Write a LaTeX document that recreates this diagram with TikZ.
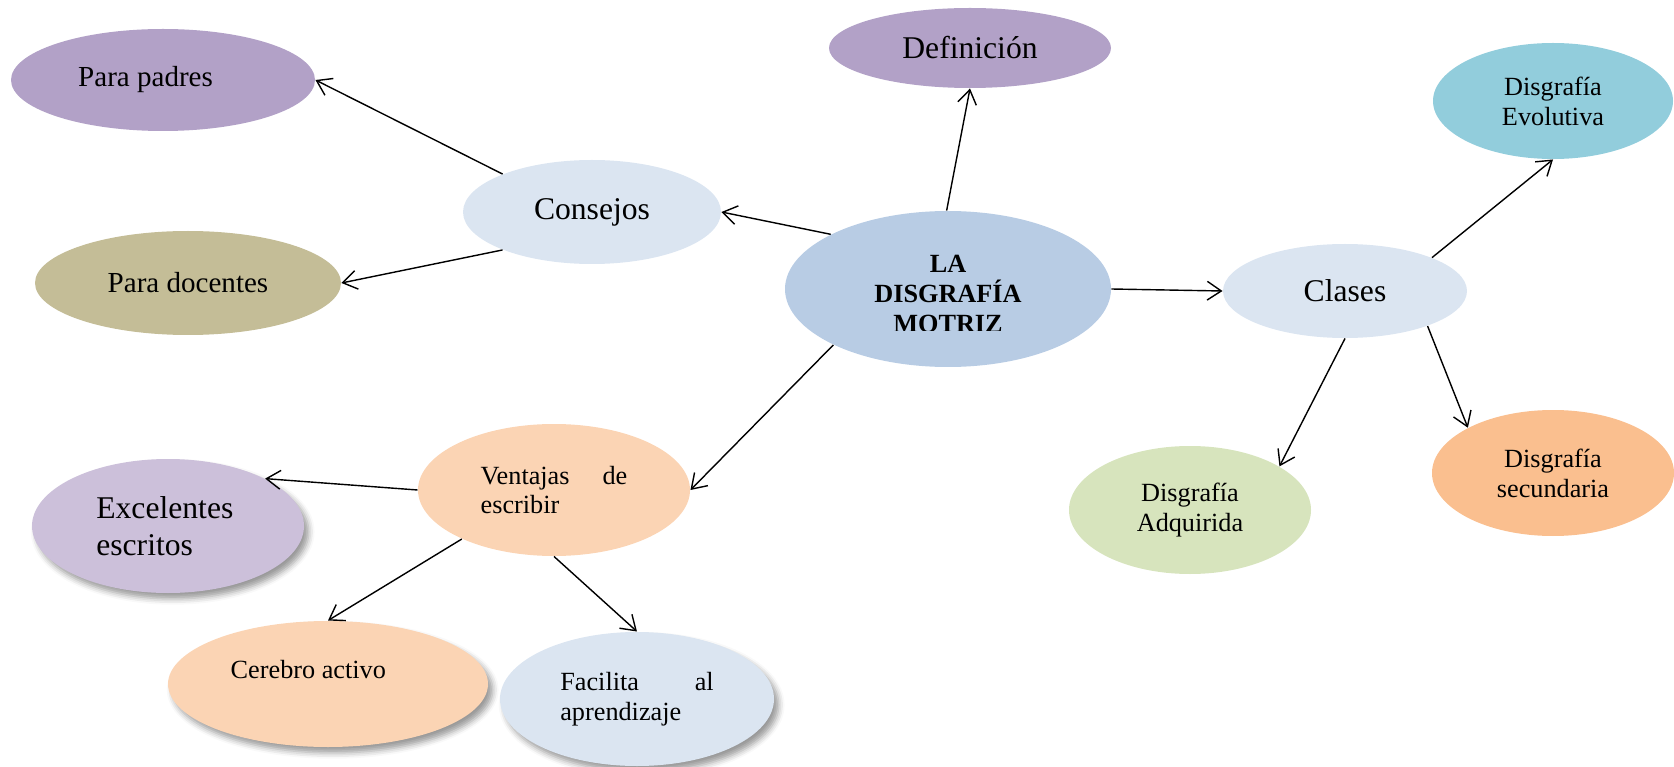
\documentclass[tikz,border=0pt]{standalone}
\usepackage{fontspec}
\setmainfont{Liberation Serif}
\usetikzlibrary{shapes.geometric,arrows.meta,shadows.blur}
\definecolor{lila}{HTML}{B2A1C7}
\definecolor{celeste}{HTML}{DBE5F1}
\definecolor{caqui}{HTML}{C4BD97}
\definecolor{azul}{HTML}{B8CCE4}
\definecolor{turquesa}{HTML}{92CDDC}
\definecolor{naranja}{HTML}{FABF8F}
\definecolor{verde}{HTML}{D7E4BD}
\definecolor{durazno}{HTML}{FBD4B4}
\definecolor{malva}{HTML}{CCC0DA}
\tikzset{
  bub/.style n args={3}{ellipse, fill=#1, inner sep=0pt, minimum width=#2*0.03cm, minimum height=#3*0.03cm},
  big/.style={font=\fontsize{13.5}{16}\selectfont},
  mid/.style={font=\fontsize{12.4}{15}\selectfont},
  sml/.style={font=\fontsize{11.2}{12.75}\selectfont},
  sombra/.style={blur shadow={shadow xshift=2pt, shadow yshift=-2.5pt, shadow blur radius=2.5pt, shadow opacity=40}},
  arr/.style={-{Straight Barb[length=6pt,width=8pt]}, line width=0.6pt},
}
\begin{document}
\begin{tikzpicture}[x=0.015cm, y=-0.015cm]
\useasboundingbox (0,0) rectangle (1674,767);
\node[bub={lila}{152}{51}, mid] (padres) at (163,80) {Para padres\hspace*{1.2em}};
\node[bub={lila}{141}{40}, big] (defin) at (970,48) {Definición};
\node[bub={celeste}{129}{52}, big] (consejos) at (592,212) {Consejos};
\node[bub={caqui}{153}{52}, mid] (docentes) at (188,283) {Para docentes};
\node[bub={azul}{163}{78}] (motriz) at (948,289) {};
\begin{scope}
  \clip (785,211) rectangle (1112,330.5);
  \node[font=\fontsize{11.2}{12.75}\selectfont\bfseries, align=center] (titulo) at (948,294) {LA\\DISGRAFÍA\\MOTRIZ};
\end{scope}
\node[bub={celeste}{122}{47}, big] (clases) at (1345,291) {Clases};
\node[bub={turquesa}{120}{58}, sml, align=center] (evolut) at (1553,101) {Disgrafía\\Evolutiva};
\node[bub={naranja}{121}{63}, sml, align=center] (secund) at (1553,473) {Disgrafía\\secundaria};
\node[bub={verde}{121}{64}, sml, align=center] (adquir) at (1190,510) {Disgrafía\\Adquirida};
\node[bub={durazno}{136}{66}, sml, text width=2.2cm, align=left] (ventajas) at (554,490) {Ventajas\hspace{0pt plus 1filll}de\\escribir};
\node[bub={malva}{136}{67}, big, text width=2.15cm, align=left, sombra] (excel) at (168,526) {Excelentes\\escritos};
\node[bub={durazno}{160}{63}, sml, align=center, sombra] (cerebro) at (328,684) {Cerebro activo\hspace*{1.5em}\\\mbox{}};
\node[bub={celeste}{137}{67}, sml, text width=2.3cm, align=left, sombra] (facilita) at (637,699) {Facilita\hspace{0pt plus 1filll}al\\aprendizaje};

\draw[arr] (motriz.91) -- (defin.south);
\draw[arr] (motriz.155) -- (consejos.east);
\draw[arr] (consejos.157) -- (padres.east);
\draw[arr] (consejos.203) -- (docentes.east);
\draw[arr] (motriz.east) -- (clases.west);
\draw[arr] (motriz.206) -- (ventajas.east);
\draw[arr] (clases.21) -- (evolut.south);
\draw[arr] (clases.south) -- (adquir.26);
\draw[arr] (clases.337) -- (secund.152);
\draw[arr] (ventajas.west) -- (excel.26);
\draw[arr] (ventajas.208) -- (cerebro.north);
\draw[arr] (ventajas.south) -- (facilita.north);
\end{tikzpicture}
\end{document}
